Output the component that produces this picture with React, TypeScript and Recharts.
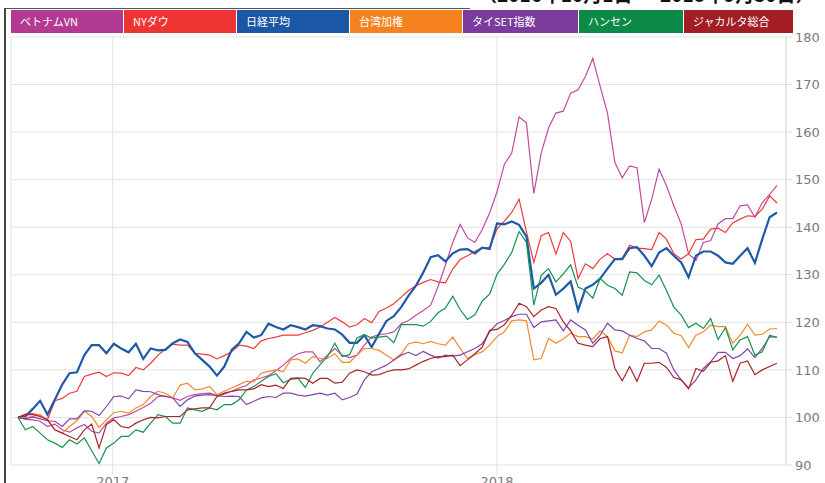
import { LineChart, Line, XAxis, YAxis, CartesianGrid } from "recharts";

// weekly closes, indexed to 100 at the start (2016-10-03)
const START = Date.UTC(2016, 9, 3);
const WEEK = 7 * 24 * 3600 * 1000;

const vietnamVN = [
  100, 99.6, 99.5, 99.2, 98.1, 98.6, 97.4, 96.9, 97.8, 98.5,
  97.1, 96.7, 98.8, 99.9, 100.2, 100.6, 101.3, 102.1, 103, 104.4,
  104.5, 104.1, 103.6, 104.4, 104.8, 105, 105.1, 104.6, 104.9, 105.5,
  106.2, 106.7, 107.9, 108.3, 108.8, 109.8, 111, 112.4, 113.4, 113.8,
  113.8, 111.7, 113.1, 114.5, 113.1, 112.6, 113.1, 115.2, 116.9, 117.4,
  117.6, 118, 119.7, 120.4, 121.5, 122.5, 123.6, 127.5, 132, 136.8,
  140.6, 137.8, 136.8, 139.5, 143, 147.4, 153.2, 155.6, 163.2, 161.9,
  147.1, 155.6, 160.9, 164, 164.4, 168.2, 168.9, 171.7, 175.5, 169.6,
  164, 153.6, 150.4, 152.9, 152.5, 141, 145.9, 152.2, 148.7, 144.5,
  140.7, 134.4, 133, 136.8, 137.2, 140.7, 141.8, 141.8, 144.5, 144.7,
  142.1, 145.2, 146.9, 148.8,
];

const nyDow = [
  100, 100.7, 100.8, 100.4, 99.5, 103.5, 104, 105.1, 105.5, 108.6,
  109.1, 109.5, 108.6, 109.4, 109.3, 108.8, 110.5, 110, 111.4, 113.1,
  114.4, 115.4, 115.2, 115.2, 113.5, 113.3, 113.1, 112.3, 113, 113.8,
  115.2, 115, 114.5, 116.1, 116.6, 116.9, 117.3, 117.3, 117.3, 117.8,
  118.3, 119, 120, 121, 120.1, 119, 119.5, 120.8, 119.9, 122.3,
  123, 123.9, 125.3, 126.7, 127.7, 128.4, 129, 128.5, 128.3, 131.2,
  133.2, 134, 134.9, 135.7, 135.7, 139.6, 141.3, 143.1, 145.9, 139,
  132.6, 138.2, 138.9, 134.4, 138.9, 137, 129.2, 132.3, 131.3, 133.3,
  134.4, 133.3, 133.5, 136.2, 135.6, 135.5, 135.3, 138.9, 137.5, 134.4,
  133.3, 134.4, 137.4, 137.5, 139.6, 139.8, 138.9, 140.9, 141.7, 142.4,
  142.3, 143.8, 146.6, 145.1,
];

const nikkei = [
  100, 100.2, 101.8, 103.5, 100.6, 103.7, 106.9, 109.3, 109.5, 113.1,
  115.2, 115.2, 113.5, 115.5, 114.5, 113.7, 115.5, 112.3, 114.5, 114.1,
  114.2, 115.6, 116.4, 115.9, 113.5, 112.1, 110.7, 108.8, 110.7, 114.2,
  115.6, 118, 116.8, 117.3, 119.7, 119, 118.5, 119.4, 119, 118.5,
  119.4, 119.2, 118.7, 118.5, 117.4, 115.7, 115.7, 117.3, 114.8, 117.6,
  120.3, 121.3, 123.2, 125.6, 127.7, 130.5, 133.7, 134.1, 132.8, 134.5,
  135.3, 135.4, 134.5, 135.7, 135.4, 140.8, 140.6, 141.2, 140.5, 138,
  127.1, 128.3, 130, 125.8, 127.1, 128.6, 122.5, 127.1, 127.9, 129.2,
  131.3, 133.3, 133.3, 135.6, 135.8, 134, 131.8, 134.7, 135.6, 134,
  132.6, 129.5, 134, 134.9, 134.9, 134, 132.6, 132.3, 134, 135.6,
  132.5, 137.5, 142.1, 143.1,
];

const taiwan = [
  100, 99.9, 100.2, 100.6, 99.5, 97.4, 96.7, 98.1, 99.3, 101.3,
  100.2, 97.9, 99.5, 101, 101.3, 100.9, 102, 102.7, 104.4, 105.5,
  105.1, 104.1, 106.8, 107.2, 105.8, 106, 106.5, 104.8, 105.5, 106.2,
  106.9, 107.6, 107.5, 109.3, 109.7, 110, 109.6, 112.1, 112.3, 111.4,
  112.8, 112.4, 112.4, 113.4, 111.6, 111.6, 113.1, 114.5, 114.5, 114.1,
  113.1, 112.1, 113.4, 115.5, 115.9, 115.5, 116, 115.5, 115.2, 116.9,
  114.5, 112.4, 113.2, 113.8, 115.2, 117, 118, 120.3, 120.5, 120.3,
  112.1, 112.4, 116.6, 115.6, 116.5, 117.7, 117, 117, 116.5, 118.2,
  117, 114, 113.6, 117.3, 117, 118, 118.4, 120.3, 119.4, 117.7,
  117.2, 114.7, 117.3, 118, 119.4, 119.1, 119.1, 115.6, 117.3, 119.6,
  117.3, 117.5, 118.6, 118.7,
];

const thaiSET = [
  100, 99.7, 100.1, 99.7, 99.3, 99.2, 98.1, 99.7, 99.7, 101.4,
  101.3, 100.4, 102.3, 104.4, 104.5, 103.9, 105.8, 105.5, 105.4, 104.8,
  104.4, 104.1, 102.3, 103.7, 104.5, 104.7, 104.8, 104.6, 104.4, 104.5,
  104.4, 102.7, 103.4, 104.1, 104.4, 104.2, 105.1, 105.1, 104.7, 104.5,
  104.8, 105.1, 104.7, 105.1, 103.7, 104.2, 104.9, 107.9, 109.6, 110.3,
  111, 112.1, 113.1, 113.7, 113, 113.9, 113.1, 112.5, 113.1, 112.9,
  113.1, 113.8, 114.5, 115.5, 118, 119.7, 120.4, 121.2, 121.7, 121.7,
  118.9, 120.1, 120.3, 120.5, 118.2, 120.5, 119.4, 118.4, 115.6, 117.3,
  119.8, 118.4, 118.2, 117.3, 116.6, 116.1, 114.5, 114.5, 113.5, 110,
  107.9, 106.2, 107.9, 110.3, 111.7, 113.7, 113.7, 112.4, 113, 114.4,
  112.6, 114.5, 117, 116.9,
];

const hangSeng = [
  100, 97.4, 98.1, 96.7, 95.3, 94.6, 93.7, 95.3, 94.4, 95.7,
  93, 90.3, 93.6, 94.6, 96, 96, 97.4, 96.9, 98.8, 100.6,
  100.2, 98.8, 98.8, 102, 101.6, 101.3, 102, 101.6, 102.7, 102.7,
  103.7, 105.8, 106.5, 107.6, 108.6, 109.2, 107.3, 108, 108.2, 106.3,
  109.3, 111.1, 112.8, 115.6, 112.8, 113.2, 116.7, 117.4, 116.7, 116.9,
  117.1, 115.7, 119.5, 119.5, 119.5, 119.2, 120.2, 122, 123, 125.5,
  122.7, 120.6, 121.6, 124.5, 125.9, 130.1, 132.2, 134.7, 139.1, 136.8,
  123.6, 129.9, 131.3, 128.5, 130.2, 132.1, 127.4, 126.7, 125.1, 129.2,
  127.8, 127.1, 125.7, 130.6, 130.4, 128.8, 127.9, 129.9, 126.7, 123.2,
  121.5, 118.9, 119.8, 118.7, 120.8, 116.4, 118.9, 114.2, 116.3, 117,
  113.1, 113.8, 117.3, 116.8,
];

const jakarta = [
  100, 100.6, 100.6, 100.2, 99.5, 97.4, 96.7, 96, 95.3, 97.4,
  98.6, 93.6, 98.5, 99.5, 98.1, 97.8, 98.8, 99.5, 100, 99.9,
  100.2, 100.2, 100.2, 101.6, 101.8, 102, 102, 104.4, 105.1, 105.5,
  105.8, 105.8, 106, 106.9, 106.5, 106.8, 106.1, 108.2, 108.3, 108.2,
  107.2, 108.2, 108.2, 107.2, 107.4, 109.3, 110, 109.6, 108.9, 109,
  109.6, 110, 110, 110.2, 111, 111.8, 112.4, 112.8, 112.8, 113.1,
  110.9, 112.1, 113.4, 114.8, 118.3, 118.5, 119.5, 121.5, 124, 123.3,
  121.2, 122.6, 123.3, 122.9, 120.1, 118.2, 115.6, 115.2, 114.9, 116.6,
  117, 110.3, 107.7, 110.7, 107.6, 111.4, 111.4, 111.6, 110.5, 108.4,
  107.9, 106, 110.3, 109.7, 111.6, 111.9, 113, 107.6, 111.4, 111.9,
  109, 110, 110.7, 111.4,
];

const SERIES = [
  { key: "vn", name: "ベトナムVN", values: vietnamVN, box: "#b23a92", line: "#c04aa2", width: 1.2 },
  { key: "dow", name: "NYダウ", values: nyDow, box: "#ee3333", line: "#f03a3a", width: 1.2 },
  { key: "nikkei", name: "日経平均", values: nikkei, box: "#1c57a5", line: "#1f5aa8", width: 2.2 },
  { key: "tw", name: "台湾加権", values: taiwan, box: "#f5821f", line: "#f7882c", width: 1.2 },
  { key: "set", name: "タイSET指数", values: thaiSET, box: "#7a3c9c", line: "#8246aa", width: 1.2 },
  { key: "hs", name: "ハンセン", values: hangSeng, box: "#0b8a47", line: "#169250", width: 1.2 },
  { key: "jk", name: "ジャカルタ総合", values: jakarta, box: "#a21d24", line: "#a8252c", width: 1.2 },
];

const LEGEND_WIDTHS = [112, 112, 112, 112, 115, 104, 109];

const YEAR_TICKS = [Date.UTC(2017, 0, 1), Date.UTC(2018, 0, 1)];
const Y_TICKS = [90, 100, 110, 120, 130, 140, 150, 160, 170, 180];

const data = vietnamVN.map((_, i) => {
  const row: Record<string, number> = { t: START + i * WEEK };
  SERIES.forEach((s) => {
    row[s.key] = s.values[i];
  });
  return row;
});

const tickFont = { fill: "#7a7a7a", fontSize: 13, fontFamily: "DejaVu Sans" };

export default function App() {
  return (
    <div
      style={{
        position: "absolute",
        top: 0,
        left: 0,
        width: 825,
        height: 483,
        overflow: "hidden",
        background: "#fff",
      }}
    >
      <div
        style={{
          position: "absolute",
          top: -16,
          left: 478,
          fontSize: 19,
          lineHeight: "19px",
          fontWeight: "bold",
          fontFamily: "Noto Sans CJK JP",
          color: "#111",
          whiteSpace: "nowrap",
        }}
      >
        （2016年10月1日 ～ 2018年9月30日）
      </div>
      <div style={{ position: "absolute", left: 4, top: 8, width: 466, height: 1, background: "#555" }} />
      <div style={{ position: "absolute", left: 4, top: 8, width: 2, height: 475, background: "#444" }} />

      <LineChart
        width={825}
        height={483}
        data={data}
        margin={{ top: 37, right: 0, bottom: 0, left: 11 }}
      >
        <CartesianGrid stroke="#e2e2e2" />
        <XAxis
          dataKey="t"
          type="number"
          domain={[START, START + (vietnamVN.length - 1) * WEEK]}
          ticks={YEAR_TICKS}
          tickFormatter={(t: number) => String(new Date(t).getUTCFullYear())}
          padding={{ left: 7, right: 9 }}
          height={18}
          axisLine={false}
          tickLine={{ stroke: "#e2e2e2" }}
          tickSize={10}
          tickMargin={2}
          tick={tickFont}
        />
        <YAxis
          orientation="right"
          domain={[90, 180]}
          ticks={Y_TICKS}
          interval={0}
          width={39}
          tickSize={6}
          tickMargin={3}
          axisLine={{ stroke: "#dcdcdc" }}
          tickLine={{ stroke: "#dcdcdc" }}
          tick={tickFont}
        />
        <YAxis
          yAxisId="left"
          orientation="left"
          domain={[90, 180]}
          width={0}
          tick={false}
          tickLine={false}
          axisLine={{ stroke: "#e2e2e2" }}
        />
        {SERIES.map((s) => (
          <Line
            key={s.key}
            type="linear"
            dataKey={s.key}
            name={s.name}
            stroke={s.line}
            strokeWidth={s.width}
            dot={false}
            activeDot={false}
            isAnimationActive={false}
          />
        ))}
      </LineChart>

      <div style={{ position: "absolute", top: 10, left: 11, display: "flex", gap: 1 }}>
        {SERIES.map((s, i) => (
          <div
            key={s.key}
            style={{
              width: LEGEND_WIDTHS[i],
              height: 23,
              background: s.box,
              color: "#fff",
              fontSize: 11,
              fontFamily: "Noto Sans CJK JP",
              lineHeight: "23px",
              paddingLeft: 9,
              boxSizing: "border-box",
              whiteSpace: "nowrap",
            }}
          >
            {s.name}
          </div>
        ))}
      </div>
    </div>
  );
}
